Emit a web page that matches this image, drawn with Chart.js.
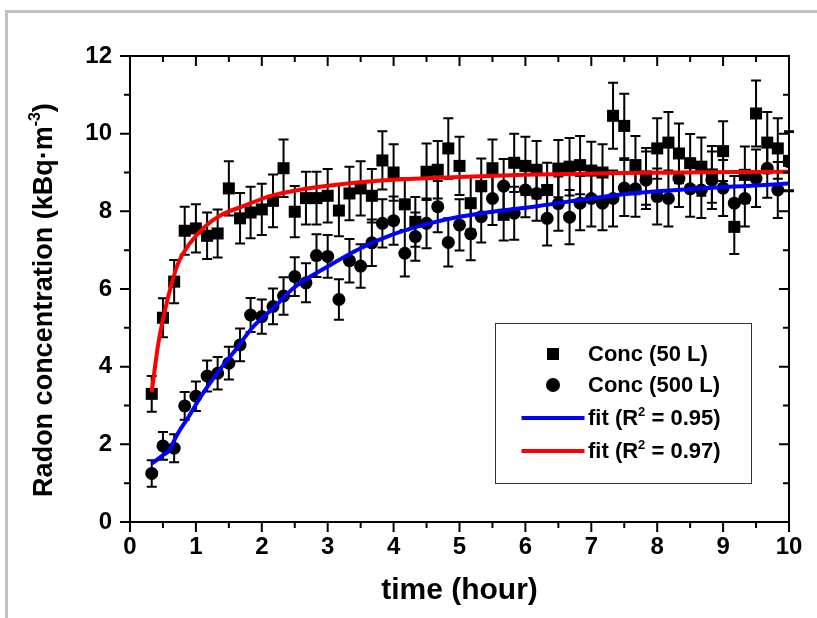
<!DOCTYPE html>
<html>
<head>
<meta charset="utf-8">
<script src="https://cdn.jsdelivr.net/npm/chart.js@4.4.1/dist/chart.umd.min.js"></script>
<style>
  body { margin: 0; background: #fff; }
  #wrap { position: relative; width: 817px; height: 618px; overflow: hidden; }
  #frame { position: absolute; left: 5px; top: 10px; width: 820px; height: 620px;
           border-top: 3px solid #c2c2c2; border-left: 3px solid #c2c2c2; pointer-events: none; }
  #ytitle { position: absolute; left: 43px; top: 300px; transform: translate(-50%, -50%) rotate(-90deg);
            white-space: nowrap; font: bold 27px Arial, "Liberation Sans", sans-serif; color: #000; }
  #ytitle sup { font-size: 16px; vertical-align: 12px; }
  #legend { position: absolute; left: 495px; top: 323px; width: 255px; height: 159px;
            border: 1px solid #333; background: #fff;
            font: bold 22px Arial, "Liberation Sans", sans-serif; color: #000; }
  .row { position: absolute; left: 0; width: 100%; height: 30px; }
  .row .txt { position: absolute; left: 92px; top: 50%; transform: translateY(-50%); white-space: nowrap; }
  .row .sym { position: absolute; left: 57px; top: 50%; transform: translate(-50%, -50%); }
  .sq { width: 12px; height: 12px; background: #000; }
  .ci { width: 14px; height: 14px; border-radius: 50%; background: #000; }
  .ln { width: 63px; height: 4px; }
  sup { font-size: 13px; vertical-align: 9px; line-height: 0; }
</style>
</head>
<body>
<div id="wrap">
  <canvas id="grafico" width="817" height="618"></canvas>
  <div id="frame"></div>
  <div id="ytitle">Radon concentration (kBq·m<sup>-3</sup>)</div>
  <div id="legend">
    <div class="row" style="top:15px"><span class="sym sq"></span><span class="txt">Conc (50 L)</span></div>
    <div class="row" style="top:46px"><span class="sym ci"></span><span class="txt">Conc (500 L)</span></div>
    <div class="row" style="top:79px"><span class="sym ln" style="background:#0000ff"></span><span class="txt">fit (R<sup>2</sup> = 0.95)</span></div>
    <div class="row" style="top:112px"><span class="sym ln" style="background:#ff0000"></span><span class="txt">fit (R<sup>2</sup> = 0.97)</span></div>
  </div>
</div>
<script>
// tiempo de medida (horas), un punto cada 10 min
const timeH = [0.33, 0.5, 0.67, 0.83, 1.0, 1.17, 1.33, 1.5, 1.67, 1.83,
  2.0, 2.17, 2.33, 2.5, 2.67, 2.83, 3.0, 3.17, 3.33, 3.5,
  3.67, 3.83, 4.0, 4.17, 4.33, 4.5, 4.67, 4.83, 5.0, 5.17,
  5.33, 5.5, 5.67, 5.83, 6.0, 6.17, 6.33, 6.5, 6.67, 6.83,
  7.0, 7.17, 7.33, 7.5, 7.67, 7.83, 8.0, 8.17, 8.33, 8.5,
  8.67, 8.83, 9.0, 9.17, 9.33, 9.5, 9.67, 9.83, 10.0];

// Conc (50 L)
const conc50 = [3.30, 5.26, 6.19, 7.50, 7.56, 7.37, 7.43, 8.59, 7.82, 7.97,
  8.05, 8.27, 9.11, 7.99, 8.34, 8.34, 8.40, 8.02, 8.46, 8.59,
  8.40, 9.31, 9.00, 8.18, 7.73, 9.02, 9.07, 9.62, 9.17, 8.21,
  8.65, 9.11, 7.91, 9.25, 9.17, 9.07, 8.55, 9.10, 9.15, 9.19,
  9.05, 9.00, 10.46, 10.20, 9.19, 8.90, 9.62, 9.77, 9.49, 9.24,
  9.15, 8.95, 9.55, 7.60, 8.94, 10.52, 9.77, 9.62, 9.30];
const err50 = [0.46, 0.50, 0.56, 0.62, 0.62, 0.60, 0.62, 0.70, 0.65, 0.66,
  0.66, 0.68, 0.74, 0.66, 0.68, 0.68, 0.69, 0.66, 0.69, 0.70,
  0.69, 0.75, 0.73, 0.67, 0.64, 0.73, 0.74, 0.78, 0.75, 0.68,
  0.71, 0.74, 0.66, 0.75, 0.75, 0.74, 0.70, 0.74, 0.74, 0.75,
  0.74, 0.73, 0.85, 0.83, 0.75, 0.73, 0.78, 0.79, 0.77, 0.75,
  0.75, 0.73, 0.77, 0.70, 0.73, 0.85, 0.79, 0.78, 0.76];

// Conc (500 L)
const conc500 = [1.25, 1.96, 1.90, 2.99, 3.24, 3.76, 3.83, 4.09, 4.56, 5.33,
  5.29, 5.55, 5.82, 6.32, 6.16, 6.86, 6.84, 5.73, 6.73, 6.59,
  7.19, 7.69, 7.76, 6.92, 7.35, 7.69, 8.12, 7.20, 7.65, 7.42,
  7.86, 8.33, 8.65, 7.95, 8.55, 8.46, 7.82, 8.20, 7.85, 8.21,
  8.33, 8.21, 8.33, 8.60, 8.58, 8.80, 8.38, 8.33, 8.85, 8.58,
  8.55, 8.80, 8.60, 8.21, 8.33, 8.85, 9.11, 8.55, 9.28];
const err500 = [0.34, 0.36, 0.36, 0.36, 0.38, 0.40, 0.42, 0.42, 0.42, 0.44,
  0.44, 0.46, 0.48, 0.50, 0.50, 0.55, 0.55, 0.52, 0.56, 0.56,
  0.60, 0.62, 0.62, 0.60, 0.62, 0.64, 0.66, 0.62, 0.66, 0.68,
  0.66, 0.68, 0.70, 0.68, 0.70, 0.70, 0.70, 0.70, 0.70, 0.70,
  0.72, 0.70, 0.72, 0.72, 0.72, 0.74, 0.72, 0.72, 0.74, 0.72,
  0.72, 0.74, 0.72, 0.70, 0.72, 0.74, 0.76, 0.72, 0.76];

// curvas de ajuste
const fit50X = [0.33, 0.43, 0.58, 0.73, 0.91, 1.14, 1.39, 1.7, 2.1, 2.56, 3.1, 3.77, 4.5, 5.1, 6.0, 7.5, 10.0];
const fit50Y = [3.35, 4.6, 5.8, 6.66, 7.18, 7.61, 7.91, 8.12, 8.38, 8.55, 8.68, 8.79, 8.85, 8.89, 8.94, 8.99, 9.02];
const fit500X = [0.33, 0.5, 0.6, 0.7, 0.89, 1.09, 1.34, 1.6, 1.85, 2.2, 2.5, 3.0, 3.5, 4.0, 4.5, 5.0, 6.2, 7.5, 10.0];
const fit500Y = [1.5, 1.72, 1.85, 2.2, 2.71, 3.27, 3.87, 4.43, 4.99, 5.55, 6.05, 6.58, 7.05, 7.41, 7.67, 7.86, 8.14, 8.44, 8.72];

// ejes
const xRange = [0, 10];
const yRange = [0, 12];
const xLabelStep = 1, xMinorStep = 0.5;
const yLabelStep = 2, yMinorStep = 1;

const toPoints = (xs, ys) => xs.map((x, i) => ({ x: x, y: ys[i] }));
const FONT = 'Arial, "Liberation Sans", sans-serif';

// barras de error + marco con ticks estilo Origin
const marcoPlugin = {
  id: 'marco',
  beforeDatasetsDraw(chart) {
    const { ctx, scales: { x, y } } = chart;
    ctx.save();
    ctx.strokeStyle = '#000';
    ctx.lineWidth = 2;
    [[conc50, err50], [conc500, err500]].forEach(([vals, errs]) => {
      vals.forEach((v, i) => {
        const px = x.getPixelForValue(timeH[i]);
        const top = y.getPixelForValue(v + errs[i]);
        const bot = y.getPixelForValue(v - errs[i]);
        ctx.beginPath();
        ctx.moveTo(px, top); ctx.lineTo(px, bot);
        ctx.moveTo(px - 5, top); ctx.lineTo(px + 5, top);
        ctx.moveTo(px - 5, bot); ctx.lineTo(px + 5, bot);
        ctx.stroke();
      });
    });
    ctx.restore();
  },
  afterDraw(chart) {
    const { ctx, chartArea: a, scales: { x, y } } = chart;
    ctx.save();
    ctx.strokeStyle = '#000';
    ctx.lineWidth = 2;
    ctx.strokeRect(a.left, a.top, a.right - a.left, a.bottom - a.top);
    ctx.beginPath();
    for (let v = xRange[0]; v <= xRange[1] + 1e-9; v += xMinorStep) {
      const px = x.getPixelForValue(v);
      const len = Math.abs(v % xLabelStep) < 1e-6 ? 10 : 6;
      ctx.moveTo(px, a.bottom); ctx.lineTo(px, a.bottom + len);
      ctx.moveTo(px, a.top); ctx.lineTo(px, a.top + len);
    }
    for (let v = yRange[0]; v <= yRange[1] + 1e-9; v += yMinorStep) {
      const py = y.getPixelForValue(v);
      const len = Math.abs(v % yLabelStep) < 1e-6 ? 10 : 6;
      ctx.moveTo(a.left - len, py); ctx.lineTo(a.left, py);
      ctx.moveTo(a.right - len, py); ctx.lineTo(a.right, py);
    }
    ctx.stroke();
    ctx.restore();
  }
};

new Chart(document.getElementById('grafico'), {
  type: 'scatter',
  data: {
    datasets: [
      {
        label: 'fit (R² = 0.95)',
        data: toPoints(fit500X, fit500Y),
        showLine: true,
        borderColor: '#0000ff',
        borderWidth: 4,
        pointRadius: 0,
        cubicInterpolationMode: 'monotone',
        order: 0
      },
      {
        label: 'fit (R² = 0.97)',
        data: toPoints(fit50X, fit50Y),
        showLine: true,
        borderColor: '#ff0000',
        borderWidth: 4,
        pointRadius: 0,
        cubicInterpolationMode: 'monotone',
        order: 0
      },
      {
        label: 'Conc (50 L)',
        data: toPoints(timeH, conc50),
        pointStyle: 'rect',
        pointRadius: 8.5,
        backgroundColor: '#000',
        borderColor: '#000',
        borderWidth: 0,
        order: 1
      },
      {
        label: 'Conc (500 L)',
        data: toPoints(timeH, conc500),
        pointStyle: 'circle',
        pointRadius: 6.5,
        backgroundColor: '#000',
        borderColor: '#000',
        borderWidth: 0,
        order: 1
      }
    ]
  },
  options: {
    responsive: false,
    animation: false,
    layout: { padding: { left: 0, right: 28, top: 56, bottom: 0 } },
    plugins: { legend: { display: false }, tooltip: { enabled: false } },
    scales: {
      x: {
        type: 'linear',
        min: xRange[0],
        max: xRange[1],
        grid: { display: false, drawTicks: false },
        border: { display: false },
        ticks: { stepSize: xLabelStep, padding: 11, color: '#000',
                 font: { family: FONT, size: 24, weight: 'bold' } },
        title: { display: true, text: 'time (hour)', color: '#000',
                 font: { family: FONT, size: 30, weight: 'bold' },
                 padding: { top: 0, bottom: 9 } },
        afterFit: (s) => { s.height = 96; }
      },
      y: {
        type: 'linear',
        min: yRange[0],
        max: yRange[1],
        grid: { display: false, drawTicks: false },
        border: { display: false },
        ticks: { stepSize: yLabelStep, padding: 18, color: '#000',
                 font: { family: FONT, size: 24, weight: 'bold' } },
        title: { display: false },
        afterFit: (s) => { s.width = 130; }
      }
    }
  },
  plugins: [marcoPlugin]
});
</script>
</body>
</html>
